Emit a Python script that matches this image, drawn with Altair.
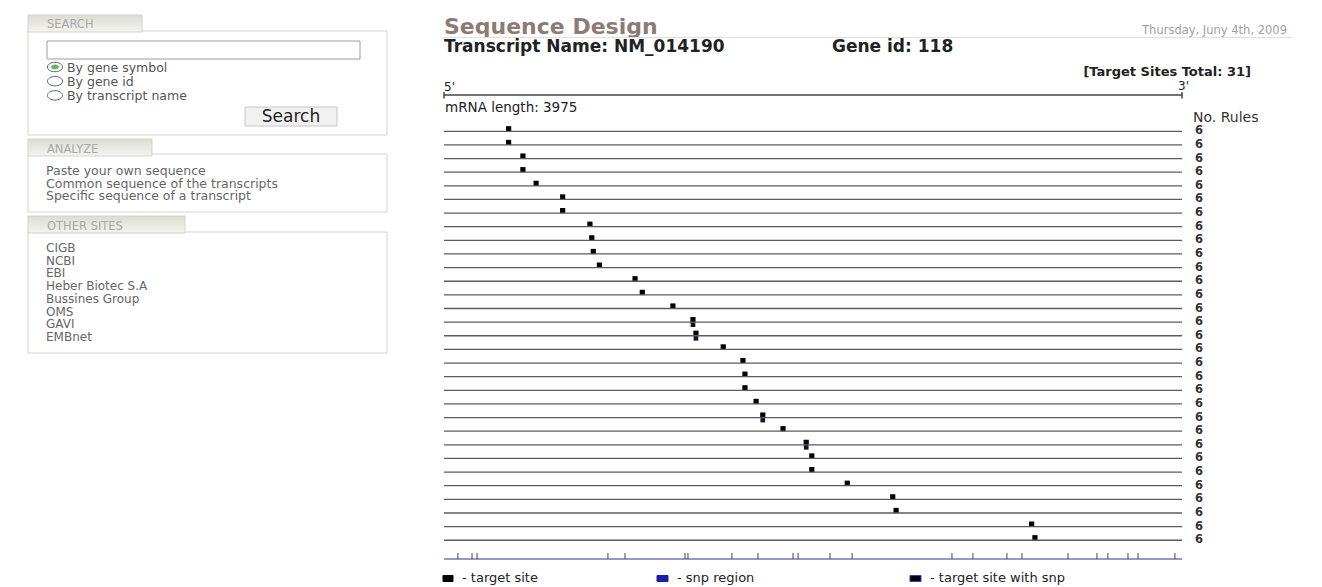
import altair as alt
import pandas as pd

# ------------------------------------------------------------------ data
mrna_length = 3975
target_sites_total = 31
site_positions = [348, 348, 425, 425, 496, 639, 639, 786, 796, 804, 837, 1029, 1068, 1233,
                  1341, 1357, 1504, 1610, 1621, 1621, 1681, 1717, 1826, 1951, 1981, 1981,
                  2172, 2417, 2435, 3165, 3183]
site_rules = [6, 6, 6, 6, 6, 6, 6, 6, 6, 6, 6, 6, 6, 6, 6, 6,
              6, 6, 6, 6, 6, 6, 6, 6, 6, 6, 6, 6, 6, 6, 6]
snp_site_rows = [15, 16, 22, 24]
snp_positions = [75, 151, 178, 883, 975, 1298, 1314, 1551, 1691, 1880, 1907, 2079, 2198,
                 2736, 2849, 3032, 3113, 3361, 3517, 3576, 3684, 3738, 3937]

search_options = ["By gene symbol", "By gene id", "By transcript name"]
analyze_items = ["Paste your own sequence", "Common sequence of the transcripts",
                 "Specific sequence of a transcript"]
other_sites = ["CIGB", "NCBI", "EBI", "Heber Biotec S.A", "Bussines Group", "OMS", "GAVI", "EMBnet"]
legend_labels = ["- target site", "- snp region", "- target site with snp"]

title_text = "Sequence Design"
date_text = "Thursday, Juny 4th, 2009"
transcript_text = "Transcript Name: NM_014190"
gene_text = "Gene id: 118"

# ------------------------------------------------------------------ layout
W, H = 1306, 579
OFF = 8
FONT = "DejaVu Sans"


def px(v):
    return v - OFF


ONE = pd.DataFrame({"k": [0]})

X_SCALE = alt.Scale(domain=[-2348.4, 4686.0], nice=False, zero=False)
Y_SCALE = alt.Scale(domain=[-8.044, 34.43], reverse=True, nice=False, zero=False)


def box(x1, y1, x2, y2, fill, stroke, sw=1.0):
    return alt.Chart(ONE).mark_rect(fill=fill, stroke=stroke, strokeWidth=sw).encode(
        x=alt.value(px(x1)), x2=alt.value(px(x2)), y=alt.value(px(y1)), y2=alt.value(px(y2)))


def label(t, x, y, size, color, weight="normal", align="left", baseline="middle", font=FONT):
    return alt.Chart(ONE).mark_text(text=t, fontSize=size, color=color, fontWeight=weight,
                                    align=align, baseline=baseline, font=font).encode(
        x=alt.value(px(x)), y=alt.value(px(y)))


tab_fill = alt.Gradient(gradient="linear",
                        stops=[alt.GradientStop(color="#dcdcd4", offset=0),
                               alt.GradientStop(color="#f4f4f0", offset=1)],
                        x1=0, x2=0, y1=0, y2=1)
BORDER = "#d3d3cb"
SIDE_TXT = "#666666"
HEAD_TXT = "#a9a9a9"

layers = []

# ---- sidebar: SEARCH
layers.append(box(28, 31, 387, 135, "white", BORDER))
layers.append(box(28, 15, 142, 32, tab_fill, BORDER))
layers.append(label("SEARCH", 47, 25, 11.5, HEAD_TXT))
layers.append(box(47, 41, 360, 59, "white", "#9c9ca4"))
ELLIPSE = "M-1,0A1,0.62,0,1,1,1,0A1,0.62,0,1,1,-1,0Z"
for i, opt in enumerate(search_options):
    cy = 67 + i * 14.2
    layers.append(alt.Chart(ONE).mark_point(shape=ELLIPSE, size=230, filled=True, fill="white",
                                            stroke="#5d6472", strokeWidth=1, opacity=1).encode(
        x=alt.value(px(55)), y=alt.value(px(cy))))
    if i == 0:
        layers.append(alt.Chart(ONE).mark_point(shape=ELLIPSE, size=60, filled=True,
                                                fill="#63b763", opacity=1).encode(
            x=alt.value(px(55)), y=alt.value(px(cy))))
    layers.append(label(opt, 67, cy + 1, 12.5, "#555555"))
layers.append(box(245, 107, 337, 126, "#f1f1f1", "#c6c6c6"))
layers.append(label("Search", 291, 116.5, 17, "#222222", align="center"))

# ---- sidebar: ANALYZE
layers.append(box(28, 154, 387, 212, "white", BORDER))
layers.append(box(28, 139, 152, 156, tab_fill, BORDER))
layers.append(label("ANALYZE", 47, 149.5, 11.5, HEAD_TXT))
for i, item in enumerate(analyze_items):
    layers.append(label(item, 46, 171 + i * 12.6, 12.5, SIDE_TXT))

# ---- sidebar: OTHER SITES
layers.append(box(28, 232, 387, 353, "white", BORDER))
layers.append(box(28, 216, 185, 233, tab_fill, BORDER))
layers.append(label("OTHER SITES", 47, 226.5, 11.5, HEAD_TXT))
for i, item in enumerate(other_sites):
    layers.append(label(item, 46, 248 + i * 12.7, 12, SIDE_TXT))

# ---- header
layers.append(label(title_text, 444, 33.5, 22, "#8c7b74", weight="bold", baseline="alphabetic"))
layers.append(alt.Chart(ONE).mark_rule(color="#dedede", strokeWidth=1).encode(
    x=alt.value(px(442)), x2=alt.value(px(1291)), y=alt.value(px(37.5))))
layers.append(label(date_text, 1287, 31, 11.5, "#a0a0a0", align="right"))
layers.append(label(transcript_text, 444, 52, 17, "#222222", weight="bold", baseline="alphabetic"))
layers.append(label(gene_text, 832, 52, 17, "#222222", weight="bold", baseline="alphabetic"))
layers.append(label(f"[Target Sites Total: {target_sites_total}]", 1251, 72, 13, "#222222",
                    weight="bold", align="right"))

# ---- 5' - 3' transcript bar
layers.append(label("5'", 444, 91, 12, "#222222", baseline="alphabetic"))
layers.append(label("3'", 1178, 90, 12, "#222222", baseline="alphabetic"))
layers.append(alt.Chart(ONE).mark_rule(color="#444444", strokeWidth=1.5).encode(
    x=alt.X(datum=0, scale=X_SCALE, axis=None), x2=alt.datum(mrna_length), y=alt.value(px(95))))
for end in (0, mrna_length):
    layers.append(alt.Chart(ONE).mark_rule(color="#444444", strokeWidth=1.5).encode(
        x=alt.X(datum=end, scale=X_SCALE, axis=None), y=alt.value(px(92)), y2=alt.value(px(98.5))))
layers.append(label(f"mRNA length: {mrna_length}", 445, 108, 13.5, "#222222"))
layers.append(label("No. Rules", 1193, 118, 14, "#333333"))

# ---- target-site rows
rows = pd.DataFrame({
    "row": list(range(1, len(site_positions) + 1)),
    "pos": site_positions,
    "rules": site_rules,
})
rows["start"] = 0
rows["end"] = mrna_length
snp_rows_df = rows[rows["row"].isin(snp_site_rows)]

base = alt.Chart(rows)
layers.append(base.mark_square(size=27, color="black", opacity=1, yOffset=-2.5).encode(
    x=alt.X("pos:Q", scale=X_SCALE, axis=None),
    y=alt.Y("row:Q", scale=Y_SCALE, axis=None)))
layers.append(alt.Chart(snp_rows_df).mark_square(size=22, color="#111133", opacity=1, yOffset=2.5).encode(
    x=alt.X("pos:Q", scale=X_SCALE, axis=None),
    y=alt.Y("row:Q", scale=Y_SCALE, axis=None)))
layers.append(base.mark_rule(color="#5c5c5c", strokeWidth=1.3).encode(
    x=alt.X("start:Q", scale=X_SCALE, axis=None), x2="end:Q",
    y=alt.Y("row:Q", scale=Y_SCALE, axis=None)))
layers.append(base.mark_text(align="left", baseline="middle", fontWeight="bold", fontSize=11.5,
                             font=FONT, color="#333333").encode(
    x=alt.value(px(1195)), y=alt.Y("row:Q", scale=Y_SCALE, axis=None), text="rules:Q"))

# ---- snp track
layers.append(alt.Chart(ONE).mark_rule(color="#7676bb", strokeWidth=1.5).encode(
    x=alt.X(datum=0, scale=X_SCALE, axis=None), x2=alt.datum(mrna_length), y=alt.value(px(559))))
snp_df = pd.DataFrame({"pos": snp_positions})
layers.append(alt.Chart(snp_df).mark_rule(color="#444455", strokeWidth=1).encode(
    x=alt.X("pos:Q", scale=X_SCALE, axis=None), y=alt.value(px(553)), y2=alt.value(px(559))))

# ---- legend
leg_x = [(443, 453, "black", "black"), (657, 668, "#1c1cab", "#1c1cab"), (910, 921, "black", "#3a3ad0")]
for (x1, x2, f, s), txt in zip(leg_x, legend_labels):
    layers.append(box(x1, 575.5, x2, 581.5, f, s, 1))
    layers.append(label(txt, x2 + 9, 577.5, 13, "#222222"))

chart = alt.layer(*layers).properties(
    width=W, height=H, padding=0, background="white",
    autosize=alt.AutoSizeParams(type="none"),
).configure_view(stroke=None)

chart.save("out.html", embed_options={"renderer": "svg", "actions": False})
